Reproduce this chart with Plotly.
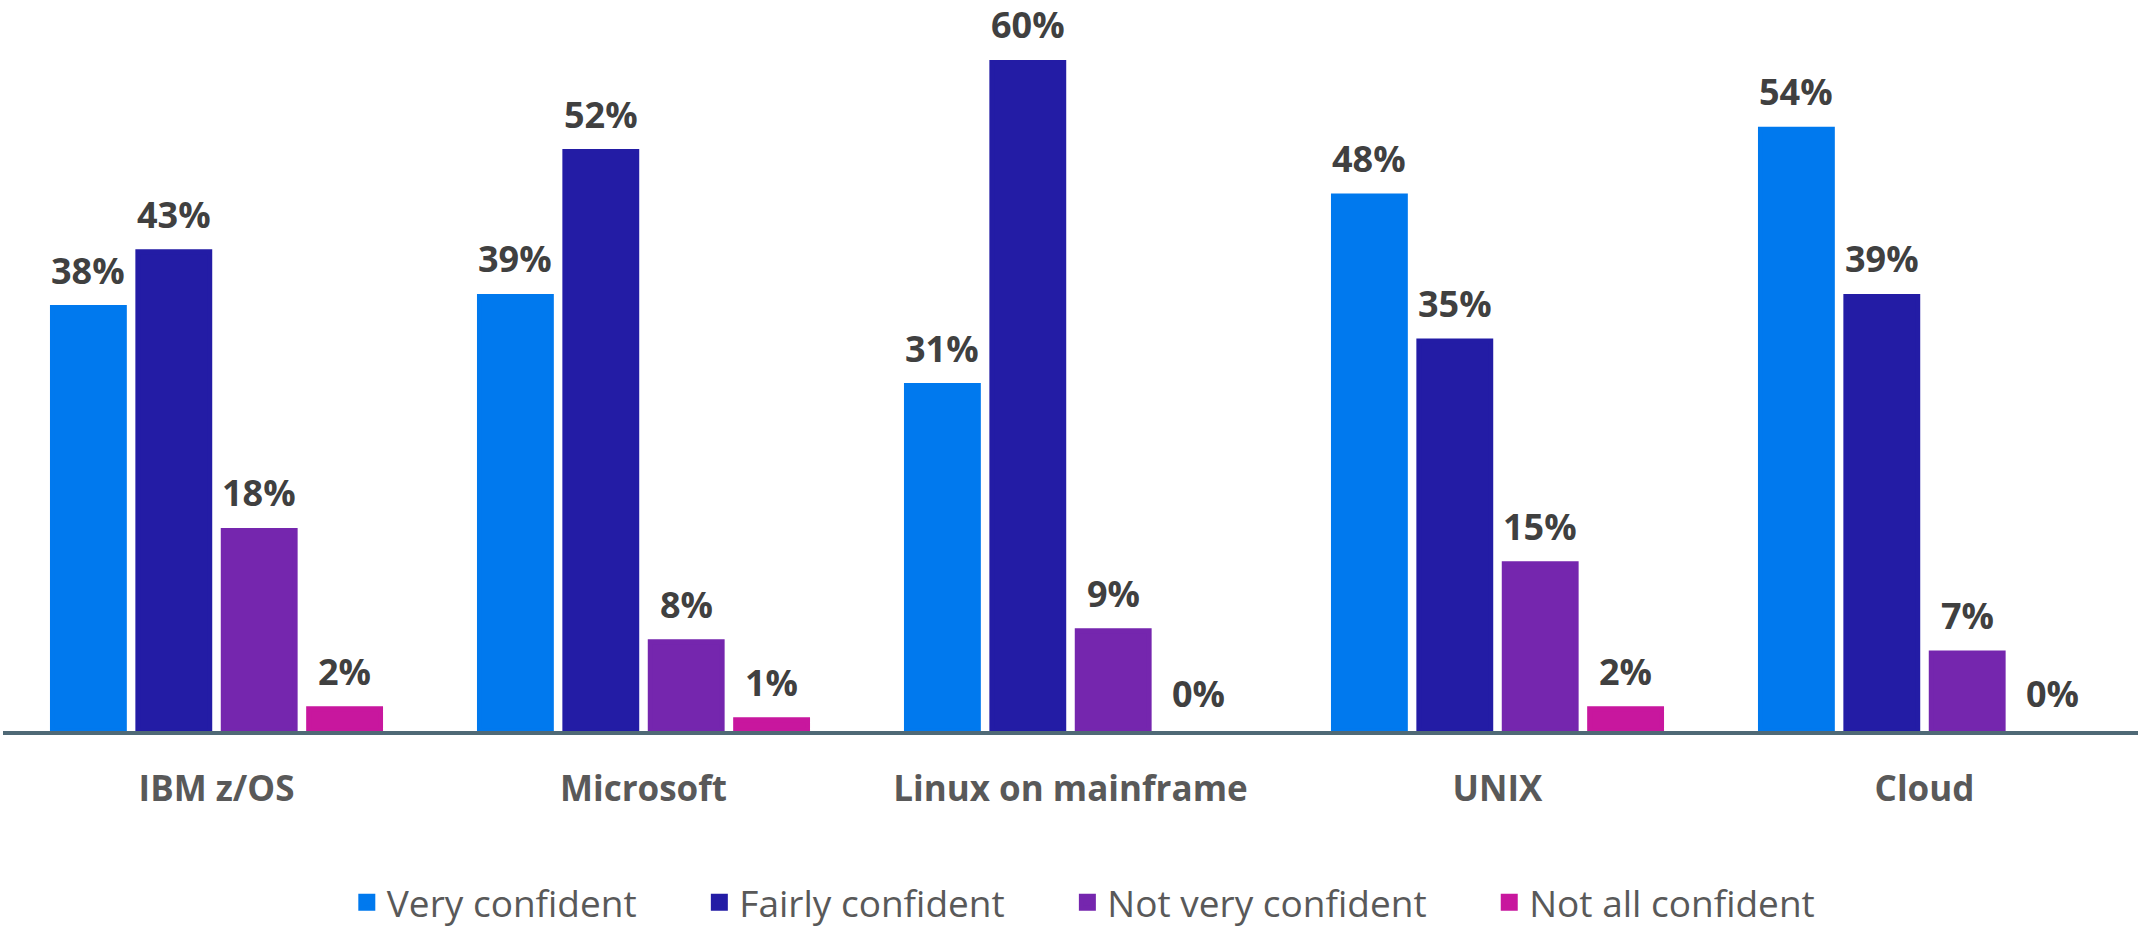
import plotly.graph_objects as go

categories = ["IBM z/OS", "Microsoft", "Linux on mainframe", "UNIX", "Cloud"]
series_names = ["Very confident", "Fairly confident", "Not very confident", "Not all confident"]
very_confident = [38, 39, 31, 48, 54]
fairly_confident = [43, 52, 60, 35, 39]
not_very_confident = [18, 8, 9, 15, 7]
not_all_confident = [2, 1, 0, 2, 0]
colors = ["#0079EE", "#231CA5", "#7526AE", "#C8179E"]

series_values = [very_confident, fairly_confident, not_very_confident, not_all_confident]

slot_width = 0.18
border = 5
px_per_unit = 427.0
bar_width = slot_width - border / px_per_unit
offsets = [-0.39, -0.19, 0.01, 0.21]
xs = list(range(len(categories)))

fig = go.Figure()
annotations = []
n = len(series_names)
for i, (name, vals, col, off) in enumerate(zip(series_names, series_values, colors, offsets)):
    legend_label = name + ("\u00a0" * 6 if i < n - 1 else "")
    fig.add_trace(go.Bar(
        x=xs, y=vals, name=legend_label, width=bar_width,
        offset=off + (border / 2) / px_per_unit,
        marker=dict(color=col, line=dict(color=col, width=[border if v > 0 else 0 for v in vals])),
    ))
    for xi, v in zip(xs, vals):
        annotations.append(dict(
            x=xi + off + slot_width / 2, y=v, xref="x", yref="y",
            text=f"<b>{v}%</b>", showarrow=False, yanchor="bottom",
            yshift=11, font=dict(family="Open Sans", size=36, color="#404040"),
        ))

fig.update_layout(
    width=2138, height=930,
    margin=dict(l=3, r=0, t=0, b=199, autoexpand=False),
    plot_bgcolor="white", paper_bgcolor="white",
    barmode="overlay",
    showlegend=True,
    legend=dict(orientation="h", x=0.506, xanchor="center", y=-0.235, yanchor="middle",
                font=dict(family="Open Sans", size=37, color="#595959"),
                itemwidth=30, tracegroupgap=0),
    annotations=annotations,
    xaxis=dict(range=[-0.5, 4.5], tickvals=xs, ticktext=[f"<b>{c}</b>" for c in categories],
               showline=True, linecolor="#4F6976", linewidth=4, showgrid=False, zeroline=False,
               ticks="", ticklabelstandoff=24,
               tickfont=dict(family="Open Sans", size=35, color="#595959")),
    yaxis=dict(range=[0, 65.6], visible=False, showgrid=False, zeroline=False),
)

fig.write_html("out.html", config={"displayModeBar": False},
               post_script="document.body.style.margin='0';document.body.style.overflow='hidden';")
